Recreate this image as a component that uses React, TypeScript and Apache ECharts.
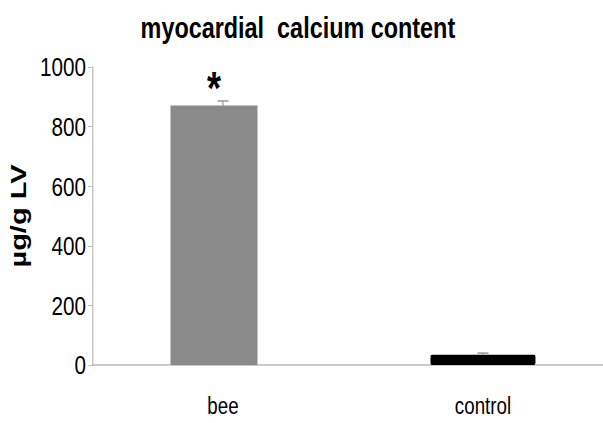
import React, { useEffect, useRef } from "react";
import * as echarts from "echarts";

const categories = ["bee", "control"];
const meanValues = [871, 34];
const errorValues = [15, 6];
const yTicks = [0, 200, 400, 600, 800, 1000];
const barColors = ["#8a8a8a", "#000000"];
const significance = ["*", ""];

// The reference is horizontally compressed; draw wider, then squeeze with CSS.
const S = 0.78;
const W = 603 / S;
const px = (v: number) => v / S;

const FONT = "'Liberation Sans', Arial, sans-serif";

export default function App() {
  const ref = useRef<HTMLDivElement>(null);
  useEffect(() => {
    if (!ref.current) return;
    const chart = echarts.init(ref.current, null, { renderer: "svg" });
    const option: any = {
      animation: false,
      backgroundColor: "#ffffff",
      title: {
        text: "myocardial  calcium content",
        left: px(294),
        textAlign: "center",
        top: 8,
        textStyle: { fontFamily: FONT, fontWeight: "bold", fontSize: 30, color: "#000" },
      },
      grid: {
        left: px(93),
        right: px(-10),
        top: 67,
        bottom: 58,
        outerBoundsMode: "none",
        containLabel: false,
      },
      xAxis: {
        type: "category",
        data: categories,
        axisLine: { show: true, lineStyle: { color: "#b8b8b8", width: 1.5 } },
        axisTick: { show: false },
        axisLabel: {
          margin: 29,
          fontFamily: FONT,
          fontSize: 24,
          color: "#000",
        },
      },
      yAxis: {
        type: "value",
        min: yTicks[0],
        max: yTicks[yTicks.length - 1],
        interval: 200,
        name: "µg/g LV",
        nameLocation: "middle",
        nameGap: 82,
        nameRotate: 90,
        nameMoveOverlap: false,
        nameTextStyle: { fontFamily: FONT, fontWeight: "bold", fontSize: 29, color: "#000" },
        axisLine: { show: true, lineStyle: { color: "#b8b8b8", width: 1.5 } },
        axisTick: { show: true, length: px(5), lineStyle: { color: "#b8b8b8" } },
        axisLabel: {
          margin: px(7),
          fontFamily: FONT,
          fontSize: 26.5,
          color: "#000",
          formatter: (v: number) => String(v),
        },
        splitLine: { show: false },
      },
      series: [
        {
          type: "bar",
          barWidth: px(87),
          data: [meanValues[0], "-"],
          itemStyle: { color: barColors[0] },
          label: {
            show: true,
            position: "top",
            distance: -6,
            formatter: () => significance[0],
            fontFamily: FONT,
            fontWeight: "bold",
            fontSize: 46,
            color: "#000",
          },
          z: 2,
        },
        {
          type: "bar",
          barWidth: px(105),
          barGap: "-100%",
          data: ["-", meanValues[1]],
          itemStyle: { color: barColors[1], borderRadius: 2 },
          z: 2,
        },
        {
          type: "custom",
          data: categories.map((c, i) => [i, meanValues[i], meanValues[i] + errorValues[i]]),
          renderItem: (params: any, api: any) => {
            const x = api.value(0);
            const lo = api.coord([x, api.value(1)]);
            const hi = api.coord([x, api.value(2)]);
            const w = px(5.5);
            const style = { stroke: "#999999", lineWidth: 1.5 };
            return {
              type: "group",
              children: [
                { type: "line", shape: { x1: lo[0], y1: lo[1], x2: hi[0], y2: hi[1] }, style },
                { type: "line", shape: { x1: hi[0] - w, y1: hi[1], x2: hi[0] + w, y2: hi[1] }, style },
              ],
            };
          },
          z: 1,
        },
      ],
    };
    chart.setOption(option);
    return () => chart.dispose();
  }, []);
  return (
    <div
      style={{
        position: "fixed",
        left: 0,
        top: 0,
        width: 603,
        height: 423,
        overflow: "hidden",
        background: "#fff",
      }}
    >
      <div
        ref={ref}
        style={{
          width: W,
          height: 423,
          transform: `scaleX(${S})`,
          transformOrigin: "0 0",
        }}
      />
    </div>
  );
}
